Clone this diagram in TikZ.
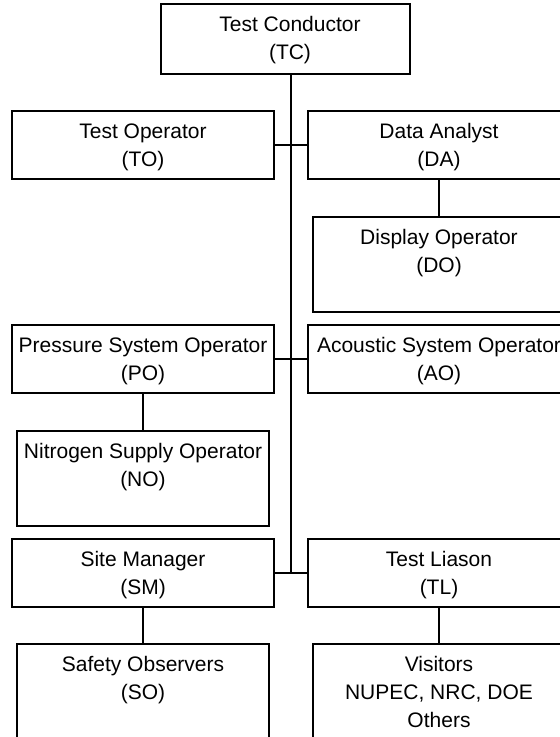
\documentclass[tikz,border=0pt]{standalone}
\usepackage{fontspec}
\setmainfont{Liberation Sans}
\usetikzlibrary{calc}
\tikzset{
  box/.style={draw=black, line width=1.2pt, rectangle, inner sep=0pt, outer sep=0pt, anchor=north west},
  wide/.style={box, minimum width=262pt, minimum height=68pt},
  tall/.style={box, minimum width=252pt, minimum height=95pt},
  lbl/.style={anchor=north, align=center, inner sep=0pt, font=\fontsize{21}{28}\selectfont},
  link/.style={line width=1.2pt, draw=black}
}
\begin{document}
\begin{tikzpicture}[x=1pt,y=1pt]
\useasboundingbox (0,0) rectangle (560,-737);
% boxes
\node[box, minimum width=249pt, minimum height=70pt] (tc) at (161,-4) {};
\node[wide] (to) at (12,-111) {};
\node[wide] (da) at (308,-111) {};
\node[tall] (dop) at (313,-217) {};
\node[wide] (po) at (12,-325) {};
\node[wide] (ao) at (308,-325) {};
\node[tall] (no) at (17,-431) {};
\node[wide] (sm) at (12,-539) {};
\node[wide] (tl) at (308,-539) {};
\node[tall] (so) at (17,-644) {};
\node[tall] (vi) at (313,-644) {};
% texts
\node[lbl] (tcT) at ([xshift=4.5pt,yshift=-12.5pt]tc.north) {Test Conductor\\(TC)};
\node[lbl] (toT) at ([yshift=-12.5pt]to.north) {Test Operator\\(TO)};
\node[lbl] (daT) at ([yshift=-12.5pt]da.north) {Data Analyst\\(DA)};
\node[lbl] (dopT) at ([yshift=-12.5pt]dop.north) {Display Operator\\(DO)};
\node[lbl] (poT) at ([yshift=-12.5pt]po.north) {Pressure System Operator\\(PO)};
\node[lbl] (aoT) at ([yshift=-12.5pt]ao.north) {Acoustic System Operator\\(AO)};
\node[lbl] (noT) at ([yshift=-12.5pt]no.north) {Nitrogen Supply Operator\\(NO)};
\node[lbl] (smT) at ([yshift=-12.5pt]sm.north) {Site Manager\\(SM)};
\node[lbl] (tlT) at ([yshift=-12.5pt]tl.north) {Test Liason\\(TL)};
\node[lbl] (soT) at ([yshift=-12.5pt]so.north) {Safety Observers\\(SO)};
\node[lbl] (viT) at ([yshift=-12.5pt]vi.north) {Visitors\\NUPEC, NRC, DOE\\Others};
% spine
\coordinate (s1) at ($(to.east)!0.5!(da.west)$);
\coordinate (s3) at ($(sm.east)!0.5!(tl.west)$);
\draw[link] (tc.south -| s1) -- (s3);
\draw[link] (to.east) -- (da.west);
\draw[link] (po.east) -- (ao.west);
\draw[link] (sm.east) -- (tl.west);
\draw[link] (da.south) -- (dop.north);
\draw[link] (po.south) -- (no.north);
\draw[link] (sm.south) -- (so.north);
\draw[link] (tl.south) -- (vi.north);
\end{tikzpicture}
\end{document}
